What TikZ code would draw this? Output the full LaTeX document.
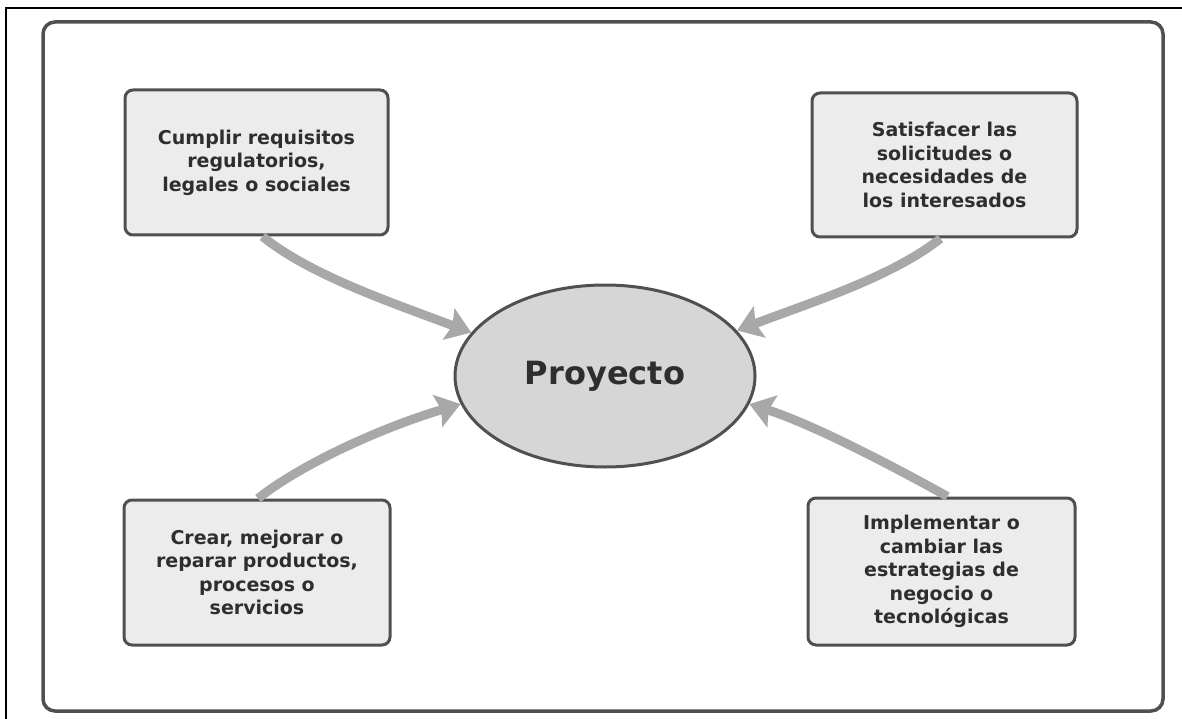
\documentclass[tikz,border=0pt]{standalone}
\usepackage{fontspec}
\setmainfont{DejaVu Sans}
\usetikzlibrary{shapes.geometric,arrows.meta}
\definecolor{boxfill}{HTML}{ECECEC}
\definecolor{ellfill}{HTML}{D6D6D6}
\definecolor{edge}{HTML}{505050}
\definecolor{arrowgray}{HTML}{A8A8A8}
\definecolor{ink}{HTML}{2E2E2E}
\tikzset{
  goalbox/.style={draw=edge, line width=3pt, fill=boxfill, rounded corners=8pt,
    minimum width=263pt, minimum height=145pt, align=center, text=ink,
    font=\fontsize{19}{23.5}\selectfont\bfseries, inner sep=0pt},
  centre/.style={ellipse, draw=edge, line width=3pt, fill=ellfill,
    minimum width=300pt, minimum height=182pt, text=ink,
    font=\fontsize{32}{38}\selectfont\bfseries},
  feed/.style={draw=arrowgray, line width=9pt,
    -{Stealth[length=24pt, width=33pt, inset=4pt]}}
}
\begin{document}
\begin{tikzpicture}[x=1pt, y=-1pt]
  \useasboundingbox (0,0) rectangle (1182,719);
  \fill[white] (0,0) rectangle (1182,719);
  % outer page rule
  \draw[black, line width=2.5pt] (6,719) -- (6,8) -- (1182,8);
  % frame
  \draw[edge, line width=3.5pt, rounded corners=12pt] (43,22) rectangle (1163,711);

  % goals
  \node[goalbox] (tl) at (256.5,162.5) {Cumplir requisitos\\regulatorios,\\legales o sociales};
  \node[goalbox, minimum width=265pt, minimum height=144pt] (tr) at (944.5,165) {Satisfacer las\\solicitudes o\\necesidades de\\los interesados};
  \node[goalbox, minimum width=266pt] (bl) at (257,572.5) {Crear, mejorar o\\reparar productos,\\procesos o\\servicios};
  \node[goalbox, minimum width=267pt, minimum height=147pt] (br) at (941.5,571.5) {Implementar o\\cambiar las\\estrategias de\\negocio o\\tecnológicas};

  % project
  \node[centre] (p) at (605,376) {Proyecto};

  % connectors
  \draw[feed] ([xshift=6pt]tl.south) .. controls (310,275) and (390,302) .. (p.162);
  \draw[feed] ([xshift=-4pt]tr.south) .. controls (892,277) and (812,302) .. (p.19);
  \draw[feed] ([xshift=1pt]bl.north) .. controls (300,465) and (380,428) .. (p.-169);
  \draw[feed] ([xshift=6pt]br.north) .. controls (900,470) and (815,425) .. (p.-11);
\end{tikzpicture}
\end{document}
